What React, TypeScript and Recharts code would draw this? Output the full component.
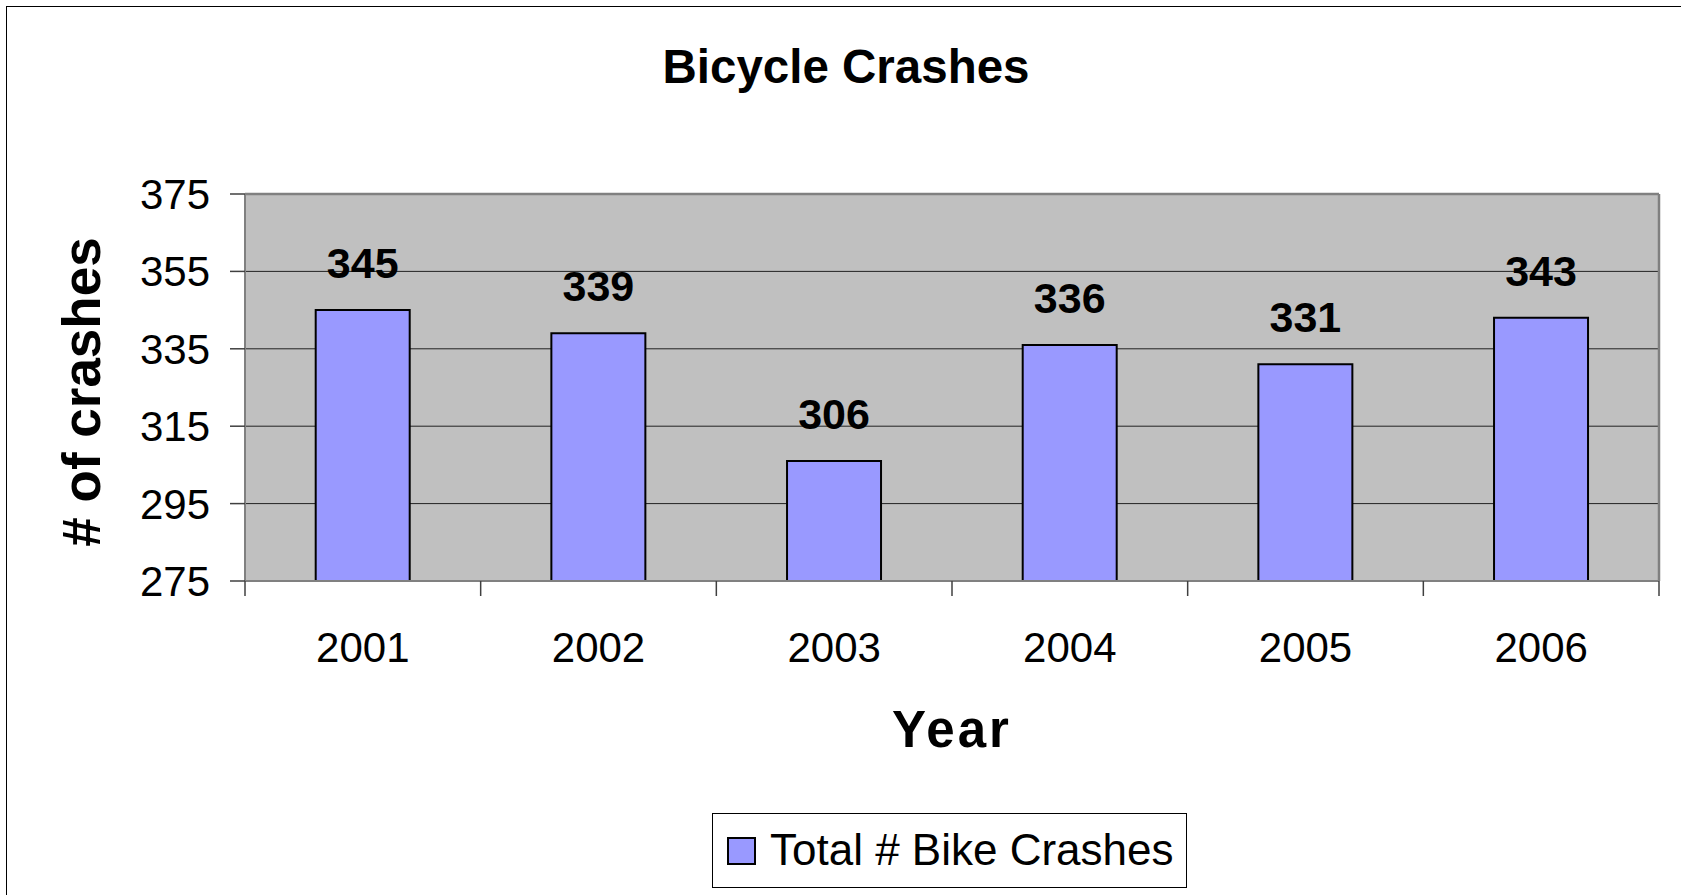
import React from 'react';
import { BarChart, Bar, XAxis, YAxis, CartesianGrid, Legend, LabelList } from 'recharts';

const years = ['2001', '2002', '2003', '2004', '2005', '2006'];
const crashes = [345, 339, 306, 336, 331, 343];
const yTicks = [275, 295, 315, 335, 355, 375];

const seriesName = 'Total # Bike Crashes';
const FONT = '"Liberation Sans", Arial, sans-serif';
const X_TICK_SIZE = 15;
const X_TICK_MARGIN = 36;

const chartData = years.map((year, i) => ({ year, crashes: crashes[i] }));

// category label at the band centre, tick marks at the band edges (Excel style)
const YearTick = (props: any) => {
  const { x, y, payload, index, visibleTicksCount } = props;
  const half = payload.offset || 0;
  const axisY = y - X_TICK_MARGIN - X_TICK_SIZE;
  const isLast = index === visibleTicksCount - 1;
  return (
    <g>
      <line x1={x - half} x2={x - half} y1={axisY} y2={axisY + X_TICK_SIZE} stroke="#404040" strokeWidth={1.5} />
      {isLast && (
        <line x1={x + half} x2={x + half} y1={axisY} y2={axisY + X_TICK_SIZE} stroke="#404040" strokeWidth={1.5} />
      )}
      <text x={x} y={y} dy="0.71em" textAnchor="middle" fill="#000" fontSize={42} fontFamily={FONT}>
        {payload.value}
      </text>
    </g>
  );
};

const LegendBox = () => (
  <div
    style={{
      position: 'relative',
      width: 475,
      height: 75,
      boxSizing: 'border-box',
      border: '1.5px solid #000',
      background: '#fff',
      fontFamily: FONT,
    }}
  >
    <div
      style={{
        position: 'absolute',
        left: 14,
        top: 23,
        width: 29,
        height: 28,
        boxSizing: 'border-box',
        background: '#9999FF',
        border: '2px solid #000',
      }}
    />
    <div
      style={{
        position: 'absolute',
        left: 57,
        top: 14,
        fontSize: 44,
        lineHeight: 1,
        whiteSpace: 'nowrap',
        color: '#000',
      }}
    >
      {seriesName}
    </div>
  </div>
);

export default function App() {
  return (
    <div style={{ position: 'fixed', left: 0, top: 0, width: 1681, height: 895, overflow: 'hidden', background: '#fff' }}>
      {/* outer chart frame, runs past the right and bottom edge */}
      <div
        style={{
          position: 'absolute',
          left: 6,
          top: 6,
          width: 1700,
          height: 920,
          border: '1.5px solid #000',
        }}
      />

      <BarChart
        width={1681}
        height={895}
        data={chartData}
        margin={{ top: 193, right: 21, left: 0, bottom: 313 }}
        barCategoryGap="30%"
        style={{ position: 'absolute', left: 0, top: 0 }}
      >
        <CartesianGrid vertical={false} fill="#C0C0C0" fillOpacity={1} stroke="#222" strokeWidth={1} />
        <XAxis
          dataKey="year"
          height={1}
          axisLine={{ stroke: '#808080', strokeWidth: 2 }}
          tickLine={false}
          tickSize={X_TICK_SIZE}
          tickMargin={X_TICK_MARGIN}
          tick={<YearTick />}
          interval={0}
        />
        {/* top edge of the plot frame */}
        <XAxis
          xAxisId="top"
          dataKey="year"
          orientation="top"
          height={1}
          axisLine={{ stroke: '#808080', strokeWidth: 2.5 }}
          tick={false}
          tickLine={false}
        />
        <YAxis
          width={245}
          domain={[275, 375]}
          ticks={yTicks}
          allowDataOverflow
          axisLine={{ stroke: '#808080', strokeWidth: 2 }}
          tickLine={{ stroke: '#404040', strokeWidth: 1.5 }}
          tickSize={15}
          tickMargin={20}
          tick={{ fill: '#000', fontSize: 42, fontFamily: FONT }}
          interval={0}
        />
        {/* right edge of the plot frame */}
        <YAxis
          yAxisId="right"
          orientation="right"
          width={1}
          domain={[275, 375]}
          allowDataOverflow
          axisLine={{ stroke: '#808080', strokeWidth: 2.5 }}
          tick={false}
          tickLine={false}
        />
        <Bar dataKey="crashes" name={seriesName} fill="#9999FF" stroke="#000" strokeWidth={2} isAnimationActive={false}>
          <LabelList
            dataKey="crashes"
            position="top"
            offset={32}
            fill="#000"
            fontSize={43}
            fontWeight="bold"
            fontFamily={FONT}
          />
        </Bar>
        <Legend
          layout="horizontal"
          verticalAlign="middle"
          align="center"
          wrapperStyle={{ left: 712, top: 813, width: 475, height: 75 }}
          content={() => <LegendBox />}
        />
      </BarChart>

      <div
        style={{
          position: 'absolute',
          left: 846,
          top: 43,
          transform: 'translateX(-50%)',
          fontFamily: FONT,
          fontWeight: 'bold',
          fontSize: 47.5,
          lineHeight: 1,
          whiteSpace: 'nowrap',
          color: '#000',
        }}
      >
        Bicycle Crashes
      </div>

      <div
        style={{
          position: 'absolute',
          left: 81,
          top: 392,
          transform: 'translate(-50%, -50%) rotate(-90deg)',
          fontFamily: FONT,
          fontWeight: 'bold',
          fontSize: 53,
          lineHeight: 1,
          whiteSpace: 'nowrap',
          color: '#000',
        }}
      >
        # of crashes
      </div>

      <div
        style={{
          position: 'absolute',
          left: 952,
          top: 704,
          transform: 'translateX(-50%)',
          fontFamily: FONT,
          fontWeight: 'bold',
          fontSize: 51,
          letterSpacing: 3,
          lineHeight: 1,
          whiteSpace: 'nowrap',
          color: '#000',
        }}
      >
        Year
      </div>
    </div>
  );
}
